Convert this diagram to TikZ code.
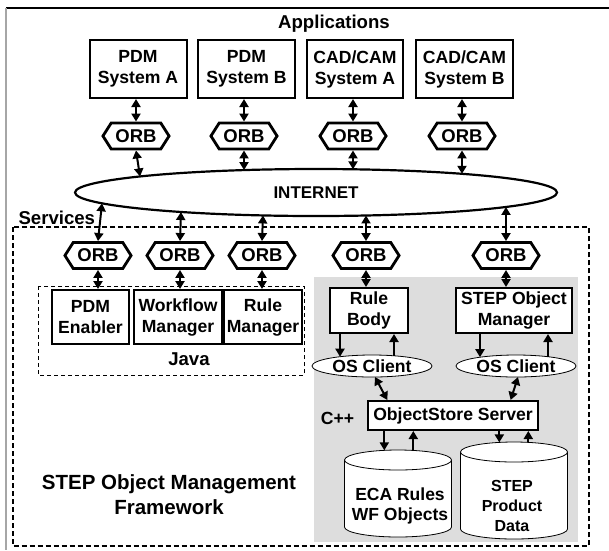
\documentclass[tikz,border=0pt]{standalone}
\usepackage{fontspec}
\setmainfont{Liberation Sans}
\usetikzlibrary{arrows.meta,shapes.geometric,shapes.symbols,calc}

\definecolor{panel}{RGB}{221,221,221}

\tikzset{
  txt/.style={font=\fontsize{17.6}{21}\selectfont\bfseries},
  bigtxt/.style={font=\fontsize{18.6}{22}\selectfont\bfseries},
  box/.style={txt, draw, line width=2pt, fill=white, align=center, inner sep=0pt},
  orb/.style={signal, signal to=east and west, signal pointer angle=115, draw,
    line width=2.8pt, fill=white, inner xsep=4.2pt, inner ysep=6.5pt,
    minimum height=25pt, font=\fontsize{18.5}{20}\selectfont\bfseries},
  client/.style={txt, ellipse, draw, line width=0.8pt, fill=white,
    minimum width=120pt, minimum height=22pt, inner sep=0pt, outer sep=0pt},
  drum/.style={ellipse, draw, line width=0.8pt, fill=white,
    minimum width=107pt, minimum height=20pt, inner sep=0pt, outer sep=0pt},
  dar/.style={{Triangle[length=8pt,width=9pt]}-{Triangle[length=8pt,width=9pt]}, line width=2pt},
  ar/.style={-{Triangle[length=8pt,width=9pt]}, line width=2pt},
  zone/.style={line width=1.6pt, dash pattern=on 5pt off 3pt},
  lang/.style={line width=1pt, dash pattern=on 4pt off 3pt}
}

\begin{document}
\begin{tikzpicture}[x=1pt,y=-1pt]
\useasboundingbox (0,0) rectangle (609,550);

% page frame
\draw[line width=1.5pt] (6,8) -- (609,8);
\draw[line width=1.5pt, gray!70] (6,8) -- (6,550);

% C++ panel and dashed groups
\fill[panel] (313.5,277) rectangle (578,542);
\draw[zone] (12.7,227) rectangle (589,546);
\draw[lang] (38,286) rectangle (304,375);

% applications
\node[bigtxt, anchor=base] (apps) at (334,28) {Applications};
\node[box, minimum width=97pt, minimum height=58pt] (pdmA) at (138,69) {PDM\\System A};
\node[box, minimum width=97pt, minimum height=58pt] (pdmB) at (246.5,69) {PDM\\System B};
\node[box, minimum width=96pt, minimum height=58pt] (cadA) at (355,69) {CAD/CAM\\System A};
\node[box, minimum width=97pt, minimum height=58pt] (cadB) at (464.5,69) {CAD/CAM\\System B};

\node[orb] (oA) at (136,136) {ORB};
\node[orb] (oB) at (244,136) {ORB};
\node[orb] (oC) at (353,136) {ORB};
\node[orb] (oD) at (462,136) {ORB};

% network
\node[ellipse, draw, line width=2.2pt, minimum width=482pt, minimum height=47pt,
      inner sep=0pt, outer sep=0pt, font=\fontsize{17}{20}\selectfont\bfseries]
      (net) at (316,192.5) {INTERNET};
% points on the network outline where the links meet it
\coordinate (nA) at ($(net.center)+(-176,-16.05)$);
\coordinate (nB) at ($(net.center)+(-72,-22.43)$);
\coordinate (nC) at ($(net.center)+(37,-23.22)$);
\coordinate (nD) at ($(net.center)+(146,-18.7)$);
\coordinate (n1) at ($(net.center)+(-214,10.81)$);
\coordinate (n2) at ($(net.center)+(-135,19.47)$);
\coordinate (n3) at ($(net.center)+(-53,22.92)$);
\coordinate (n4) at ($(net.center)+(50,22.98)$);
\coordinate (n5) at ($(net.center)+(190,14.46)$);

% services
\node[bigtxt, anchor=base west] (svc) at (15,224.5) {Services};
\node[orb] (o1) at (98,255.5) {ORB};
\node[orb] (o2) at (180,255.5) {ORB};
\node[orb] (o3) at (262,255.5) {ORB};
\node[orb] (o4) at (366,255.5) {ORB};
\node[orb] (o5) at (506,255.5) {ORB};

\node[box, minimum width=77pt, minimum height=54pt] (pdmE) at (90.5,317) {PDM\\Enabler};
\node[box, minimum width=88pt, minimum height=54pt] (wfm) at (178,317) {Workflow\\Manager};
\node[box, minimum width=78pt, minimum height=54pt] (rulm) at (263,317) {Rule\\Manager};
\node[bigtxt, anchor=base] (java) at (189,365) {Java};

\node[box, minimum width=78pt, minimum height=45pt] (rb) at (369,310.5) {Rule\\Body};
\node[box, minimum width=116pt, minimum height=45pt] (som) at (514,310.5) {STEP Object\\Manager};
\node[client] (cL) at (372,366) {OS Client};
\node[client] (cR) at (516,366) {OS Client};
\coordinate (cLa) at ($(cL.center)+(-32,-9.31)$);
\coordinate (cLb) at ($(cL.center)+(22,-10.23)$);
\coordinate (cLc) at ($(cL.center)+(3,10.99)$);
\coordinate (cRa) at ($(cR.center)+(-36,-8.8)$);
\coordinate (cRb) at ($(cR.center)+(32,-9.31)$);
\coordinate (cRc) at ($(cR.center)+(2,10.99)$);

\node[box, minimum width=170pt, minimum height=29pt] (os) at (453,415.5) {ObjectStore Server};
\node[txt] (cpp) at (337.5,418) {C++};

% databases
\draw[line width=0.8pt, fill=white] (344.5,460) -- (344.5,527)
  arc[start angle=180, end angle=0, x radius=53.5, y radius=10] -- (451.5,460);
\node[drum] (ecaTop) at (398,460) {};
\draw[line width=0.8pt, fill=white] (460.5,452) -- (460.5,529)
  arc[start angle=180, end angle=0, x radius=53.5, y radius=10] -- (567.5,452);
\node[drum] (stpTop) at (514,452) {};
\coordinate (ecaIn) at ($(ecaTop.center)+(-13.7,-9.67)$);
\coordinate (ecaOut) at ($(ecaTop.center)+(15.3,-9.58)$);
\coordinate (stpIn) at ($(stpTop.center)+(-14.7,-9.61)$);
\coordinate (stpOut) at ($(stpTop.center)+(14.3,-9.63)$);
\node[align=center, font=\fontsize{17.5}{20}\selectfont\bfseries] (eca) at (400,506) {ECA Rules\\WF Objects};
\node[align=center, font=\fontsize{16}{20}\selectfont\bfseries] (stp) at (512,505.5) {STEP\\Product\\Data};

\node[align=center, font=\fontsize{20.5}{25}\selectfont\bfseries] (somf) at (169,494.5)
  {STEP Object Management\\Framework};

% applications to network
\foreach \o/\b in {oA/pdmA, oB/pdmB, oC/cadA, oD/cadB}
  \draw[dar] (\o.north) -- (\o.north |- \b.south);
\foreach \o/\n in {oA/nA, oB/nB, oC/nC, oD/nD}
  \draw[dar] (\o.south) -- (\n);

% network to services
\foreach \o/\n in {o1/n1, o2/n2, o3/n3, o4/n4, o5/n5}
  \draw[dar] (\n) -- (\o.north);
\foreach \o/\b in {o1/pdmE, o2/wfm, o3/rulm, o4/rb, o5/som}
  \draw[dar] (\o.south) -- (\o.south |- \b.north);

% clients
\draw[ar] (rb.south -| cLa) -- (cLa);
\draw[ar] (cLb) -- (rb.south -| cLb);
\draw[ar] (som.south -| cRa) -- (cRa);
\draw[ar] (cRb) -- (som.south -| cRb);
\draw[dar] (cLc) -- ($(os.north west)!0.118!(os.north east)$);
\draw[dar] (cRc) -- ($(os.north west)!0.835!(os.north east)$);

% server to databases
\draw[ar] (os.south -| ecaIn) -- (ecaIn);
\draw[ar] (ecaOut) -- (os.south -| ecaOut);
\draw[ar] (os.south -| stpIn) -- (stpIn);
\draw[ar] (stpOut) -- (os.south -| stpOut);
\end{tikzpicture}
\end{document}
